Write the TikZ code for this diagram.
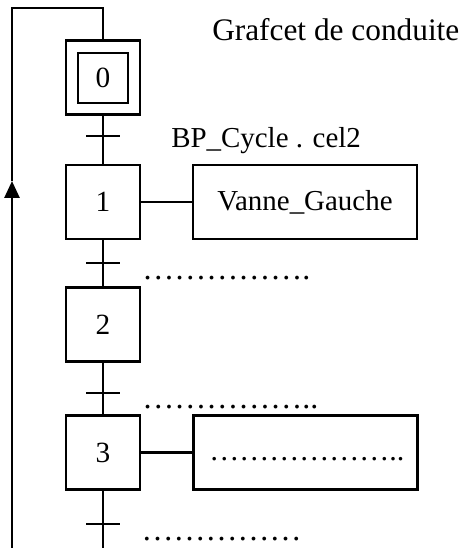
\documentclass[tikz,border=0pt]{standalone}
\usepackage{fontspec}
\setmainfont{Liberation Serif}
\usetikzlibrary{arrows.meta}
\begin{document}
\begin{tikzpicture}[x=0.75pt,y=-0.75pt,
  lw/.style={line width=2.1pt},
  txt/.style={font=\fontsize{21.7}{26}\selectfont, inner sep=0pt},
  dots/.style={font=\fontsize{24}{28}\selectfont, inner sep=0pt},
  stepbox/.style={lw, draw, minimum width=55.5pt, minimum height=55.5pt, inner sep=0pt, font=\fontsize{22}{26}\selectfont},
  innerbox/.style={lw, draw, minimum width=37.5pt, minimum height=37.5pt, inner sep=0pt, font=\fontsize{22}{26}\selectfont},
  actbox/.style={lw, draw, minimum width=168pt, minimum height=55.5pt, inner sep=0pt, font=\fontsize{21.7}{26}\selectfont},
  trans/.style={lw}
]
\useasboundingbox (0,0) rectangle (464,548);
% steps
\node[stepbox] (s0) at (103,77.5) {};
\node[innerbox] (s0i) at (103,78) {0};
\node[stepbox] (s1) at (103,202) {1};
\node[stepbox] (s2) at (103,324.5) {2};
\node[stepbox] (s3) at (103,452.5) {3};
% actions
\node[actbox] (a1) at (305,202) {Vanne\_Gauche};
\node[actbox] (a3) at (305.5,452.5) {};
\node[dots, font=\fontsize{22.5}{27}\selectfont, anchor=base west] (a3t) at (209,460) {………………..};
% coordinates
\coordinate (t0) at (103,136);
\coordinate (t1) at (103,263);
\coordinate (t2) at (103,393);
\coordinate (t3) at (103,524);
\coordinate (bot) at (103,548);
\coordinate (tr) at (103,8);
\coordinate (tl) at (12,8);
\coordinate (bl) at (12,548);
\coordinate (arr) at (12,181);
% links
\draw[lw] (s0) -- (s1);
\draw[lw] (s1) -- (s2);
\draw[lw] (s2) -- (s3);
\draw[lw] (s3) -- (bot);
\draw[lw] (s1) -- (a1);
\draw[lw] (s3) -- (a3);
% loop
\draw[lw, -{Triangle[width=11.25pt,length=12.75pt]}] (bl) -- (arr);
\draw[lw] (arr) -- (tl) -- (tr) -- (s0.north);
% transitions
\foreach \t in {t0,t1,t2,t3} {
  \draw[trans] ([xshift=-12.75pt]\t) -- ([xshift=12.75pt]\t);
}
% labels
\node[txt, font=\fontsize{23.5}{28}\selectfont, anchor=base west] (title) at (212,41) {Grafcet de conduite};
\node[txt, anchor=base west] (r0) at (171,148) {BP\_Cycle . cel2};
\node[dots, anchor=base west] (r1) at (142,279) {…………….};
\node[dots, anchor=base west] (r2) at (142,408) {……………..};
\node[dots, anchor=base west] (r3) at (141.4,540) {……………};
\end{tikzpicture}
\end{document}
